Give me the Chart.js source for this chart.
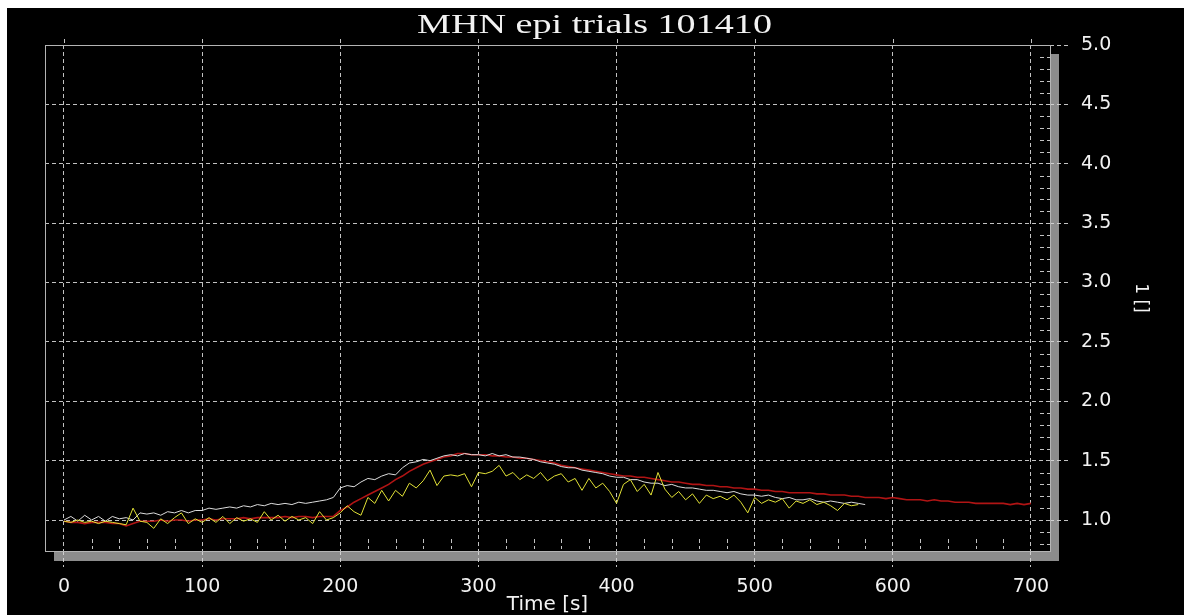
<!DOCTYPE html>
<html>
<head>
<meta charset="utf-8">
<title>MHN epi trials 101410</title>
<script src="https://cdn.jsdelivr.net/npm/chart.js@4.4.1/dist/chart.umd.min.js"></script>
<style>
  html, body { margin: 0; padding: 0; background: #ffffff; overflow: hidden; }
  #plot { position: absolute; left: 7px; top: 8px; background: #000000; }
</style>
</head>
<body>
<canvas id="plot" width="1177" height="607"></canvas>
<script>
// Sampling interval of the recorded traces, in seconds
const SAMPLE_INTERVAL = 5;

// Trace 1 (white), 0 .. 580 s
const traceWhite = [
  1.00, 1.03, 0.99, 1.04, 1.00, 1.03, 0.99, 1.03, 1.01, 1.02,
  1.00, 1.06, 1.05, 1.06, 1.04, 1.07, 1.06, 1.08, 1.06, 1.08,
  1.08, 1.10, 1.09, 1.10, 1.11, 1.10, 1.12, 1.11, 1.13, 1.12,
  1.14, 1.13, 1.14, 1.13, 1.15, 1.14, 1.15, 1.16, 1.17, 1.19,
  1.27, 1.29, 1.28, 1.32, 1.35, 1.34, 1.37, 1.39, 1.38, 1.44,
  1.48, 1.49, 1.51, 1.50, 1.52, 1.54, 1.55, 1.54, 1.56, 1.55,
  1.55, 1.54, 1.56, 1.54, 1.55, 1.53, 1.53, 1.52, 1.51, 1.49,
  1.48, 1.47, 1.45, 1.44, 1.44, 1.42, 1.41, 1.40, 1.39, 1.37,
  1.36, 1.36, 1.34, 1.34, 1.32, 1.31, 1.31, 1.29, 1.30, 1.28,
  1.27, 1.27, 1.26, 1.25, 1.25, 1.24, 1.23, 1.24, 1.22, 1.21,
  1.21, 1.20, 1.21, 1.19, 1.18, 1.19, 1.17, 1.17, 1.18, 1.16,
  1.15, 1.16, 1.15, 1.14, 1.15, 1.14, 1.13
];

// Trace 2 (red), 0 .. 700 s
const traceRed = [
  0.99, 0.98, 0.98, 0.97, 0.98, 0.98, 0.98, 0.97, 0.97, 0.95,
  0.97, 0.99, 0.99, 0.99, 1.00, 0.99, 1.00, 1.00, 0.99, 1.00,
  1.00, 1.01, 1.00, 1.01, 1.01, 1.01, 1.02, 1.01, 1.02, 1.02,
  1.02, 1.02, 1.03, 1.02, 1.03, 1.03, 1.02, 1.03, 1.03, 1.03,
  1.08, 1.11, 1.15, 1.18, 1.21, 1.24, 1.27, 1.30, 1.34, 1.37,
  1.41, 1.44, 1.47, 1.49, 1.51, 1.53, 1.54, 1.56, 1.56, 1.55,
  1.55, 1.55, 1.54, 1.54, 1.53, 1.53, 1.52, 1.52, 1.51, 1.50,
  1.49, 1.48, 1.46, 1.45, 1.44, 1.43, 1.42, 1.41, 1.40, 1.39,
  1.38, 1.37, 1.37, 1.36, 1.36, 1.35, 1.34, 1.33, 1.32, 1.32,
  1.31, 1.30, 1.30, 1.29, 1.29, 1.28, 1.28, 1.27, 1.27, 1.26,
  1.26, 1.25, 1.25, 1.24, 1.24, 1.23, 1.23, 1.23, 1.23, 1.22,
  1.22, 1.21, 1.21, 1.21, 1.20, 1.20, 1.19, 1.19, 1.19, 1.18,
  1.19, 1.18, 1.17, 1.17, 1.17, 1.16, 1.17, 1.16, 1.16, 1.15,
  1.15, 1.15, 1.14, 1.14, 1.14, 1.14, 1.14, 1.13, 1.14, 1.13,
  1.14
];

// Trace 3 (yellow), 0 .. 575 s
const traceYellow = [
  0.99, 0.98, 1.00, 0.98, 0.99, 0.97, 0.99, 0.98, 0.97, 0.96,
  1.10, 0.99, 0.98, 0.93, 1.01, 0.97, 1.02, 1.06, 0.97, 1.01,
  0.98, 1.02, 0.98, 1.03, 0.97, 1.02, 0.99, 1.01, 0.98, 1.07,
  1.00, 1.04, 0.99, 1.03, 1.00, 1.02, 0.97, 1.07, 1.00, 1.02,
  1.06, 1.12, 1.07, 1.04, 1.19, 1.14, 1.25, 1.16, 1.25, 1.20,
  1.31, 1.27, 1.33, 1.42, 1.29, 1.37, 1.38, 1.37, 1.39, 1.28,
  1.40, 1.39, 1.41, 1.46, 1.37, 1.40, 1.34, 1.38, 1.35, 1.40,
  1.33, 1.37, 1.39, 1.32, 1.35, 1.25, 1.35, 1.27, 1.31, 1.24,
  1.14, 1.30, 1.34, 1.24, 1.30, 1.21, 1.40, 1.26, 1.19, 1.24,
  1.17, 1.22, 1.14, 1.21, 1.18, 1.20, 1.17, 1.21, 1.15, 1.06,
  1.19, 1.14, 1.17, 1.15, 1.18, 1.10, 1.16, 1.14, 1.17, 1.13,
  1.15, 1.12, 1.08, 1.14, 1.12, 1.13
];

// Axis ticks and labels
const X_TICKS = [0, 100, 200, 300, 400, 500, 600, 700];
const Y_TICKS = [1.0, 1.5, 2.0, 2.5, 3.0, 3.5, 4.0, 4.5, 5.0];
const X_MIN = -13.75, X_MAX = 713.8;
const Y_MIN = 0.739, Y_MAX = 5.0;

const TITLE_TEXT = 'MHN epi trials 101410';
const X_TITLE = 'Time [s]';
const Y_TITLE = '1 []';

const GRID_COLOR = 'rgba(215,215,215,0.9)';
const FRAME_COLOR = '#b4b4b4';
const SHADOW_COLOR = '#8c8c8c';
const TEXT_COLOR = '#f2f2f2';
const DASH = [4, 3];

function toPoints(values) {
  return values.map((v, i) => ({ x: i * SAMPLE_INTERVAL, y: v }));
}

// Frame, drop shadow, minor ticks and the stretched serif heading
const framePlugin = {
  id: 'frame',
  beforeDraw(chart) {
    const { ctx, chartArea: a } = chart;
    ctx.save();
    ctx.fillStyle = '#000000';
    ctx.fillRect(0, 0, chart.width, chart.height);
    ctx.fillStyle = SHADOW_COLOR;
    ctx.fillRect(a.left + 9, a.top + 9, a.right - a.left, a.bottom - a.top + 1);
    ctx.fillStyle = '#000000';
    ctx.fillRect(a.left, a.top, a.right - a.left + 1, a.bottom - a.top + 1);
    ctx.restore();
  },
  beforeDatasetsDraw(chart) {
    const { ctx, chartArea: a, scales: { x, y } } = chart;
    ctx.save();
    ctx.strokeStyle = GRID_COLOR;
    ctx.lineWidth = 1;
    ctx.setLineDash(DASH);
    // minor ticks every 20 s along the bottom edge
    for (let t = 20; t < X_MAX; t += 20) {
      if (t % 100 === 0) continue;
      const px = Math.round(x.getPixelForValue(t)) + 0.5;
      ctx.beginPath();
      ctx.moveTo(px, a.bottom - 12);
      ctx.lineTo(px, a.bottom - 2);
      ctx.stroke();
    }
    // minor ticks every 0.1 along the right edge
    for (let k = 8; k < 50; k++) {
      if (k % 5 === 0) continue;
      const py = Math.round(y.getPixelForValue(k / 10)) + 0.5;
      ctx.beginPath();
      ctx.moveTo(a.right - 10, py);
      ctx.lineTo(a.right, py);
      ctx.stroke();
    }
    // major vertical grid lines poke slightly above the frame
    X_TICKS.forEach(v => {
      const px = Math.round(x.getPixelForValue(v)) + 0.5;
      ctx.beginPath();
      ctx.moveTo(px, a.top - 6);
      ctx.lineTo(px, a.top);
      ctx.stroke();
    });
    ctx.setLineDash([]);
    ctx.strokeStyle = FRAME_COLOR;
    ctx.strokeRect(a.left + 0.5, a.top + 0.5, a.right - a.left, a.bottom - a.top);
    ctx.restore();
  },
  afterDraw(chart) {
    const ctx = chart.ctx;
    ctx.save();
    ctx.font = "27px 'Liberation Serif'";
    ctx.fillStyle = TEXT_COLOR;
    ctx.textAlign = 'center';
    ctx.textBaseline = 'alphabetic';
    const w = ctx.measureText(TITLE_TEXT).width;
    ctx.translate(587.5, 25);
    ctx.scale(355 / w, 1);
    ctx.fillText(TITLE_TEXT, 0, 0);
    ctx.restore();
  }
};

const tickFont = { family: "'DejaVu Sans', sans-serif", size: 19 };

new Chart(document.getElementById('plot'), {
  type: 'line',
  data: {
    datasets: [
      { label: 'Trial 2', data: toPoints(traceRed), borderColor: '#b01414', borderWidth: 1.6, pointRadius: 0, tension: 0, order: 3 },
      { label: 'Trial 1', data: toPoints(traceWhite), borderColor: '#dcdcdc', borderWidth: 1, pointRadius: 0, tension: 0, order: 2 },
      { label: 'Trial 3', data: toPoints(traceYellow), borderColor: '#e2e236', borderWidth: 1, pointRadius: 0, tension: 0, order: 1 }
    ]
  },
  options: {
    responsive: false,
    animation: false,
    devicePixelRatio: 1,
    events: [],
    layout: { padding: { top: 37, left: 38, right: 0, bottom: 0 } },
    plugins: {
      legend: { display: false },
      tooltip: { enabled: false },
      title: { display: false }
    },
    scales: {
      x: {
        type: 'linear',
        position: 'bottom',
        min: X_MIN,
        max: X_MAX,
        afterBuildTicks: s => { s.ticks = X_TICKS.map(v => ({ value: v })); },
        afterFit: s => { s.height = 64; },
        grid: { color: GRID_COLOR, lineWidth: 1, drawTicks: true, tickLength: 16, tickColor: GRID_COLOR, tickBorderDash: DASH },
        border: { display: false, dash: DASH },
        ticks: { color: TEXT_COLOR, font: tickFont, padding: 9, maxRotation: 0, autoSkip: false, callback: v => String(v) },
        title: { display: true, text: X_TITLE, color: TEXT_COLOR, font: { family: "'DejaVu Sans', sans-serif", size: 20, lineHeight: 1 }, padding: { top: 0, bottom: 0 } }
      },
      y: {
        type: 'linear',
        position: 'right',
        min: Y_MIN,
        max: Y_MAX,
        afterBuildTicks: s => { s.ticks = Y_TICKS.map(v => ({ value: v })); },
        afterFit: s => { s.width = 134; },
        grid: { color: GRID_COLOR, lineWidth: 1, drawTicks: true, tickLength: 20, tickColor: GRID_COLOR, tickBorderDash: DASH },
        border: { display: false, dash: DASH },
        ticks: { color: TEXT_COLOR, font: tickFont, padding: 11, callback: v => Number(v).toFixed(1) },
        title: { display: true, text: Y_TITLE, color: TEXT_COLOR, font: { family: "'DejaVu Sans', sans-serif", size: 17 }, padding: { top: 33, bottom: 0 } }
      }
    }
  },
  plugins: [framePlugin]
});
</script>
</body>
</html>
